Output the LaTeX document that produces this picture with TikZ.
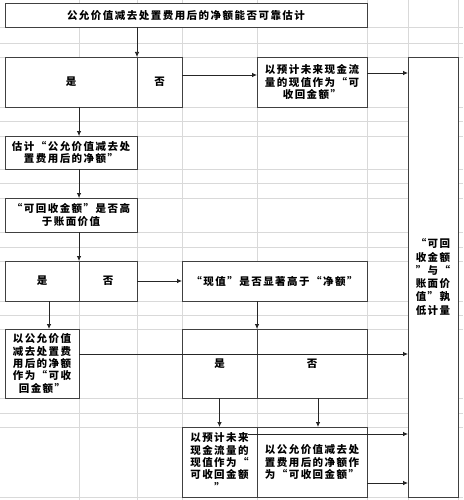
\documentclass[tikz,border=0pt]{standalone}
\usepackage{fontspec}
\newfontfamily\cjk[LetterSpace=14]{Noto Sans CJK SC}
\usetikzlibrary{
    arrows.meta,
    positioning,
    calc
}
\definecolor{gridgray}{rgb}{0.85, 0.85, 0.85}
\definecolor{boxline}{rgb}{0.25, 0.25, 0.25}
\tikzstyle{cell} = [
    rectangle,
    draw=boxline,
    line width=0.8pt,
    fill=white,
    inner sep=0pt,
    outer sep=0pt,
    anchor=north west,
    align=center,
    font=\cjk\bfseries\fontsize{10.5pt}{12.3pt}\selectfont
]
\tikzstyle{arrow} = [
    -{Latex[length=5pt,width=4.5pt]},
    line width=0.75pt,
    draw=black!85
]
\tikzstyle{gridline} = [
    draw=gridgray,
    line width=0.9pt
]

\begin{document}
\begin{tikzpicture}[x=1pt, y=-1pt]
        \useasboundingbox (0,0) rectangle (463,500);

        % Spreadsheet grid
        \foreach \gx in {79,137,182,257,367,408,458}
            \draw[gridline] (\gx,0) -- (\gx,500);
        \foreach \gy in {27,43,57,107,121,136,169,183,198,232,247,261,301,315,329,398,413,427,497}
            \draw[gridline] (0,\gy) -- (463,\gy);

        % Question at the top
        \node[cell, minimum width=362pt, minimum height=24pt] (ask) at (5,3) {公允价值减去处置费用后的净额能否可靠估计};

        % First yes / no
        \node[cell, minimum width=132pt, minimum height=50pt] (yesA) at (5,57) {是};
        \node[cell, minimum width=45pt, minimum height=50pt, right=0pt of yesA] (noA) {否};

        % Present value as recoverable amount
        \node[cell, minimum width=110pt, minimum height=50pt] (pvA) at (257,57) {以预计未来现金流\\量的现值作为“可\\收回金额”};

        % Lower of the two
        \node[cell, minimum width=50pt, minimum height=440pt,
              font=\cjk\bfseries\fontsize{10.5pt}{13.3pt}\selectfont] (lower) at (408,57) {“可回\\收金额\\”与“\\账面价\\值”孰\\低计量};

        % Estimate the net amount
        \node[cell, minimum width=132pt, minimum height=33pt] (est) at (5,136) {估计“公允价值减去处\\置费用后的净额”};

        % Compare with book value
        \node[cell, minimum width=132pt, minimum height=34pt] (cmp) at (5,198) {“可回收金额”是否高\\于账面价值};

        % Second yes / no
        \node[cell, minimum width=74pt, minimum height=40pt] (yesB) at (5,261) {是};
        \node[cell, minimum width=58pt, minimum height=40pt, right=0pt of yesB] (noB) {否};

        % Present value against net amount
        \node[cell, minimum width=185pt, minimum height=40pt] (pvq) at (182,261) {“现值”是否显著高于“净额”};

        % Net amount as recoverable amount
        \node[cell, minimum width=74pt, minimum height=69pt] (netA) at (5,329) {以公允价值\\减去处置费\\用后的净额\\作为“可收\\回金额”};

        % Third yes / no
        \node[cell, minimum width=75pt, minimum height=69pt] (yesC) at (182,329) {是};
        \node[cell, minimum width=110pt, minimum height=69pt, right=0pt of yesC] (noC) {否};

        % Results
        \node[cell, minimum width=75pt, minimum height=70pt] (pvB) at (182,427) {以预计未来\\现金流量的\\现值作为“\\可收回金额\\”};
        \node[cell, minimum width=110pt, minimum height=70pt, right=0pt of pvB] (netB) {以公允价值减去处\\置费用后的净额作\\为“可收回金额”};

        % Columns and free ends of the connectors
        \coordinate (colA) at (79,0);
        \coordinate (colB) at (49,0);
        \coordinate (colC) at (318,0);
        \coordinate (tail) at (248,434);

        % Connectors
        \draw[arrow] (ask.south -| noA.west) -- (noA.north west);
        \draw[arrow] ([yshift=7pt]noA.east) -- ([yshift=7pt]noA.east -| pvA.west);
        \draw[arrow] ([yshift=9pt]pvA.east) -- ([yshift=9pt]pvA.east -| lower.west);
        \draw[arrow] (yesA.south -| colA) -- (est.north -| colA);
        \draw[arrow] (est.south -| colA) -- (cmp.north -| colA);
        \draw[arrow] (cmp.south -| colA) -- (yesB.north east);
        \draw[arrow] (noB.east) -- (pvq.west);
        \draw[arrow] (yesB.south -| colB) -- (netA.north -| colB);
        \draw[arrow] ([yshift=9.5pt]netA.east) -- ([yshift=9.5pt]netA.east -| lower.west);
        \draw[arrow] (pvq.south -| yesC.east) -- (yesC.north east);
        \draw[arrow] (yesC.south) -- (pvB.north);
        \draw[arrow] (noC.south -| colC) -- (netB.north -| colC);
        \draw[arrow] (tail) -- (tail -| lower.west);
        \draw[arrow] ([yshift=-21pt]netB.east) -- ([yshift=-21pt]netB.east -| lower.west);
    \end{tikzpicture}
\end{document}
